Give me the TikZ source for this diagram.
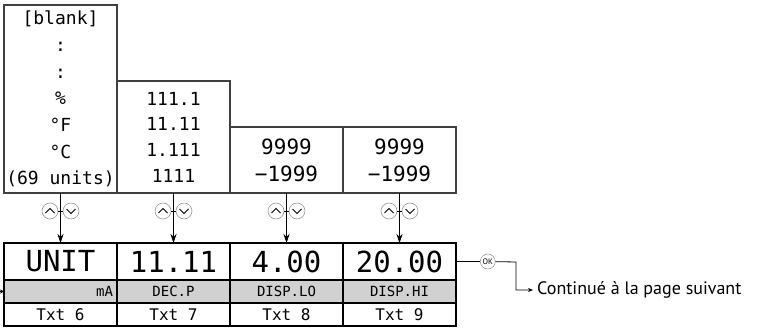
\documentclass[tikz,border=0pt]{standalone}
\usepackage{fontspec}
\setmainfont{PT Sans}
\newfontfamily\lcdfont{DejaVu Sans Mono}
\usetikzlibrary{positioning,arrows.meta}

\begin{document}
\begin{tikzpicture}[x=1pt,y=-1pt,node distance=0pt,>={Stealth[length=9pt,width=6pt]}]
\tikzstyle{optbox}=[draw=black!75,line width=1.1pt,minimum width=113pt,inner sep=0pt,outer sep=0pt,align=center,anchor=south west]
\tikzstyle{dispbox}=[draw,line width=1.4pt,minimum width=113pt,minimum height=37pt,inner sep=0pt,outer sep=0pt,font=\lcdfont\fontsize{29}{29}\selectfont]
\tikzstyle{tagbox}=[draw,line width=1.4pt,fill=black!18,minimum width=113pt,minimum height=23pt,inner sep=0pt,outer sep=0pt,font=\lcdfont\fontsize{14}{14}\selectfont]
\tikzstyle{txtbox}=[draw,line width=1.4pt,minimum width=113pt,minimum height=23pt,inner sep=0pt,outer sep=0pt,font=\lcdfont\fontsize{16}{16}\selectfont]
\tikzstyle{btnup}=[circle,draw=black!40,line width=0.6pt,minimum size=16pt,inner sep=0pt,path picture={\draw[black,line width=0.8pt] ([xshift=-4.5pt,yshift=-2pt]path picture bounding box.center) -- ++(4.5pt,4.5pt) -- ++(4.5pt,-4.5pt);}]
\tikzstyle{btndn}=[circle,draw=black!40,line width=0.6pt,minimum size=16pt,inner sep=0pt,path picture={\draw[black,line width=0.8pt] ([xshift=-4.5pt,yshift=2pt]path picture bounding box.center) -- ++(4.5pt,-4.5pt) -- ++(4.5pt,4.5pt);}]

\useasboundingbox (0,0) rectangle (758,329);

%option lists on top
\node[optbox,minimum height=188pt,font=\lcdfont\fontsize{18}{26.7}\selectfont] (opt1) at (4,193) {[blank]\\:\\:\\\%\\°F\\°C\\(69 units)};
\node[optbox,minimum height=112pt,font=\lcdfont\fontsize{18}{25.7}\selectfont] (opt2) at (opt1.south east) {111.1\\11.11\\1.111\\1111};
\node[optbox,minimum height=66pt,font=\lcdfont\fontsize{21}{27}\selectfont] (opt3) at (opt2.south east) {9999\\−1999};
\node[optbox,minimum height=66pt,font=\lcdfont\fontsize{21}{27}\selectfont] (opt4) at (opt3.south east) {9999\\−1999};

%display boxes
\node[dispbox,anchor=north west] (disp1) at (4,243) {UNIT};
\node[dispbox,right=of disp1] (disp2) {11.11};
\node[dispbox,right=of disp2] (disp3) {4.00};
\node[dispbox,right=of disp3] (disp4) {20.00};

%grey parameter rows
\node[tagbox,below=of disp1,text width=105pt,align=right,inner xsep=4pt] (tag1) {mA};
\node[tagbox,below=of disp2] (tag2) {DEC.P};
\node[tagbox,below=of disp3] (tag3) {DISP.LO};
\node[tagbox,below=of disp4] (tag4) {DISP.HI};

%text numbers
\node[txtbox,below=of tag1] (txt1) {Txt 6};
\node[txtbox,below=of tag2] (txt2) {Txt 7};
\node[txtbox,below=of tag3] (txt3) {Txt 8};
\node[txtbox,below=of tag4] (txt4) {Txt 9};

%arrows down
\draw[->,line width=0.9pt] (opt1) -- (disp1);
\draw[->,line width=0.9pt] (opt2) -- (disp2);
\draw[->,line width=0.9pt] (opt3) -- (disp3);
\draw[->,line width=0.9pt] (opt4) -- (disp4);

%up/down buttons
\node[btnup] (up1) at ([xshift=-10.5pt,yshift=-18pt]opt1.south) {};
\node[btndn] (dn1) at ([xshift=10.5pt,yshift=-18pt]opt1.south) {};
\node[btnup] (up2) at ([xshift=-10.5pt,yshift=-18pt]opt2.south) {};
\node[btndn] (dn2) at ([xshift=10.5pt,yshift=-18pt]opt2.south) {};
\node[btnup] (up3) at ([xshift=-10.5pt,yshift=-18pt]opt3.south) {};
\node[btndn] (dn3) at ([xshift=10.5pt,yshift=-18pt]opt3.south) {};
\node[btnup] (up4) at ([xshift=-10.5pt,yshift=-18pt]opt4.south) {};
\node[btndn] (dn4) at ([xshift=10.5pt,yshift=-18pt]opt4.south) {};
\draw[line width=0.8pt] (up1) -- (dn1);
\draw[line width=0.8pt] (up2) -- (dn2);
\draw[line width=0.8pt] (up3) -- (dn3);
\draw[line width=0.8pt] (up4) -- (dn4);

%entry from the left
\coordinate (entry) at (0,291.5);
\draw[-{Stealth[length=4pt,width=4pt]},line width=0.8pt] (entry) -- (tag1.west);

%OK and continuation
\node[circle,draw=black!40,line width=0.6pt,minimum size=15pt,inner sep=0pt,font=\fontsize{8}{8}\selectfont,right=24pt of disp4] (ok) {OK};
\draw[line width=0.8pt] (disp4) -- (ok);
\coordinate (bend) at (516,262);
\node[anchor=west,inner xsep=4pt,font=\fontsize{18}{18}\selectfont] (next) at (533,290) {Continué à la page suivant};
\draw[-{Stealth[length=5pt,width=4pt]},line width=0.8pt] (ok) -- (bend) |- (next);
\end{tikzpicture}
\end{document}
